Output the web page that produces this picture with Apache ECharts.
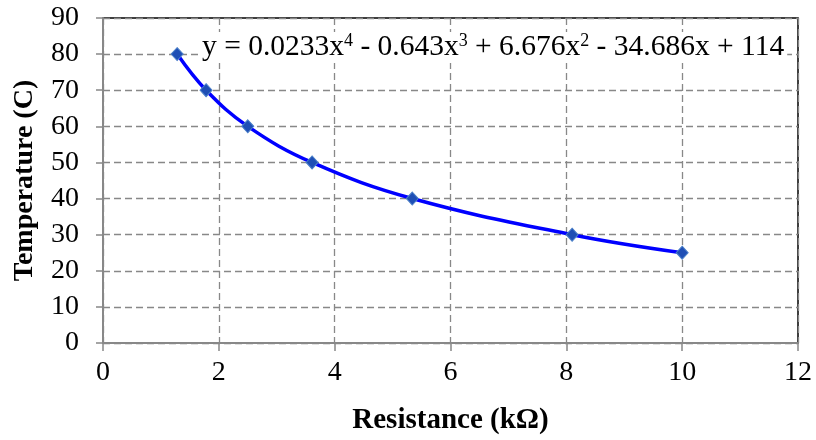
<!DOCTYPE html>
<html><head><meta charset="utf-8">
<script src="https://cdn.jsdelivr.net/npm/echarts@6/dist/echarts.min.js"></script>
<style>html,body{margin:0;padding:0;background:#fff}#c{width:816px;height:440px}</style>
</head><body><div id="c"></div>
<script>
const resistance = [1.28, 1.78, 2.5, 3.61, 5.34, 8.1, 10.0];
const temperature = [80, 70, 60, 50, 40, 30, 25];
const xTitle = 'Resistance (kΩ)';
const yTitle = 'Temperature (C)';

const font = 'Liberation Serif';
const chart = echarts.init(document.getElementById('c'));
chart.setOption({
  animation: false,
  backgroundColor: '#fff',
  grid: { left: 103, right: 18, top: 18, bottom: 96, show: true, borderColor: '#000', borderWidth: 1.5 },
  xAxis: {
    type: 'value', min: 0, max: 12, interval: 2,
    name: xTitle, nameLocation: 'middle', nameGap: 63,
    nameTextStyle: { fontFamily: font, fontSize: 29, fontWeight: 'bold', color: '#000' },
    axisLine: { lineStyle: { color: '#888', width: 2 } },
    axisTick: { show: true, length: 8, lineStyle: { color: '#888', width: 1.5 } },
    axisLabel: { fontFamily: font, fontSize: 28, color: '#000', margin: 16 },
    splitLine: { show: true, lineStyle: { color: '#888', type: [7, 4], width: 1.3 } }
  },
  yAxis: {
    type: 'value', min: 0, max: 90, interval: 10,
    name: yTitle, nameLocation: 'middle', nameGap: 64,
    nameTextStyle: { fontFamily: font, fontSize: 28, fontWeight: 'bold', color: '#000' },
    axisLine: { show: true, lineStyle: { color: '#888', width: 2 } },
    axisTick: { show: true, length: 7, lineStyle: { color: '#888', width: 1.5 } },
    axisLabel: { fontFamily: font, fontSize: 28, color: '#000', margin: 24 },
    splitLine: { show: true, lineStyle: { color: '#888', type: [7, 4], width: 1.3 } }
  },
  series: [{
    type: 'line',
    data: resistance.map((x, i) => [x, temperature[i]]),
    smooth: 0.4,
    symbol: 'diamond', symbolSize: [12, 13],
    showAllSymbol: true,
    lineStyle: { color: '#0000ff', width: 3.5 },
    itemStyle: { color: '#1f4fb5', borderColor: '#4a7fc8', borderWidth: 1 },
    z: 5
  }],
  graphic: [{
    type: 'text', left: 199, top: 32, z: 100,
    style: {
      text: 'y = 0.0233x{s|4} - 0.643x{s|3} + 6.676x{s|2} - 34.686x + 114',
      fontFamily: font, fontSize: 29.5, fill: '#000', lineHeight: 31,
      backgroundColor: '#fff', padding: [0, 3, 0, 3],
      rich: { s: { fontFamily: font, fontSize: 18, verticalAlign: 'top', lineHeight: 31 } }
    }
  }]
});
</script></body></html>
